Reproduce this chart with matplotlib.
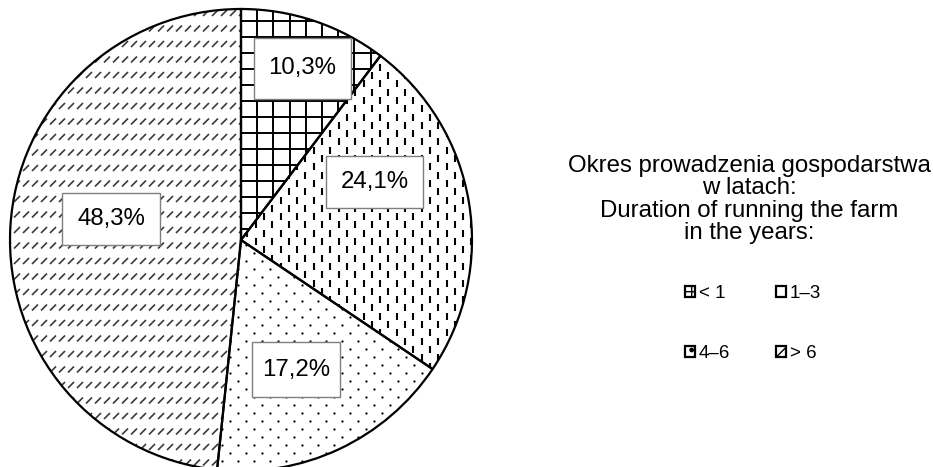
import numpy as np
import matplotlib.pyplot as plt
from matplotlib.collections import LineCollection
from matplotlib.patches import Patch, Rectangle

plt.rcParams['font.family'] = ['Liberation Sans', 'DejaVu Sans']

# data
categories = ['< 1', '1–3', '4–6', '> 6']
shares = [10.3, 24.1, 17.2, 48.3]
pct_labels = ['10,3%', '24,1%', '17,2%', '48,3%']
title_lines = ['Okres prowadzenia gospodarstwa', 'w latach:',
               'Duration of running the farm', 'in the years:']

# label placement (fraction of radius, angle nudge in degrees) and box size
label_frac = [0.79, 0.63, 0.61, 0.57]
label_nudge = [1, -14, 2, 6]
box_w = [97, 97, 88, 98]
box_h = [61, 52, 55, 52]

W, H = 933, 467
fig = plt.figure(figsize=(W / 100, H / 100), dpi=100)
ax = fig.add_axes([0, 0, 1, 1])
cx, cy, R = 241, 240, 231

# y axis points down, so counterclock in data = clockwise on screen
wedges, _ = ax.pie(shares, center=(cx, cy), radius=R, startangle=-90,
                   counterclock=True, colors=['none'] * 4,
                   wedgeprops=dict(edgecolor='black', linewidth=1.6, zorder=3))
ax.set_xlim(0, W)
ax.set_ylim(H, 0)
ax.set_aspect('auto')
ax.axis('off')

x0, x1 = cx - R - 20, cx + R + 20
y0, y1 = cy - R - 20, cy + R + 20

# < 1 : square grid
segs = []
for x in np.arange(cx, x1, 16.2):
    segs.append([(x, y0), (x, y1)])
for y in np.arange(5.3, y1, 16.0):
    segs.append([(x0, y), (x1, y)])
lc = LineCollection(segs, colors='black', linewidths=1.4, zorder=2)
ax.add_collection(lc)
lc.set_clip_path(wedges[0])

# 1-3 : staggered vertical dashes
segs = []
for k, x in enumerate(np.arange(x0, x1, 8.3)):
    off = (k % 2) * 8.3
    for y in np.arange(y0 + off, y1, 16.6):
        segs.append([(x, y), (x, y + 7)])
lc = LineCollection(segs, colors='black', linewidths=1.5, zorder=2)
ax.add_collection(lc)
lc.set_clip_path(wedges[1])

# 4-6 : staggered dots
px, py = [], []
for j, y in enumerate(np.arange(y0, y1, 8.0)):
    off = (j % 2) * 8.0
    for x in np.arange(x0 + off, x1, 16.0):
        px.append(x)
        py.append(y)
sc = ax.scatter(px, py, s=2.6, color='black', linewidths=0, zorder=2)
sc.set_clip_path(wedges[2])

# > 6 : rows of short diagonal dashes
segs = []
for y in np.arange(13, y1, 15.5):
    for x in np.arange(x0, x1, 9.0):
        segs.append([(x - 3.0, y + 3.0), (x + 3.0, y - 3.0)])
lc = LineCollection(segs, colors='#3a3a3a', linewidths=1.2, zorder=2)
ax.add_collection(lc)
lc.set_clip_path(wedges[3])

# percentage boxes
for w, lab, f, nd, bw, bh in zip(wedges, pct_labels, label_frac,
                                 label_nudge, box_w, box_h):
    mid = np.deg2rad((w.theta1 + w.theta2) / 2 + nd)
    tx, ty = cx + f * R * np.cos(mid), cy + f * R * np.sin(mid)
    ax.add_patch(Rectangle((tx - bw / 2, ty - bh / 2), bw, bh,
                           facecolor='white', edgecolor='#7f7f7f',
                           linewidth=1.0, zorder=4))
    ax.text(tx, ty, lab, ha='center', va='center', fontsize=17.3, zorder=5)

# legend title
ax.text(749, 199.5, '\n'.join(title_lines), ha='center', va='center',
        fontsize=17.3, linespacing=1.01)

hatches = ['+', '|', '.', '//']
handles = [Patch(facecolor='white', edgecolor='black', linewidth=1.6,
                 hatch=h) for h in hatches]
order = [0, 2, 1, 3]
ax.legend([handles[i] for i in order], [categories[i] for i in order],
          loc='center', bbox_to_anchor=(753, 323.5),
          bbox_transform=ax.transData, ncol=2, frameon=False,
          fontsize=13.5, handlelength=0.55, handleheight=0.55,
          handletextpad=0.2, columnspacing=2.45, labelspacing=2.3,
          borderpad=0)

fig.savefig('out.png', dpi=100)
